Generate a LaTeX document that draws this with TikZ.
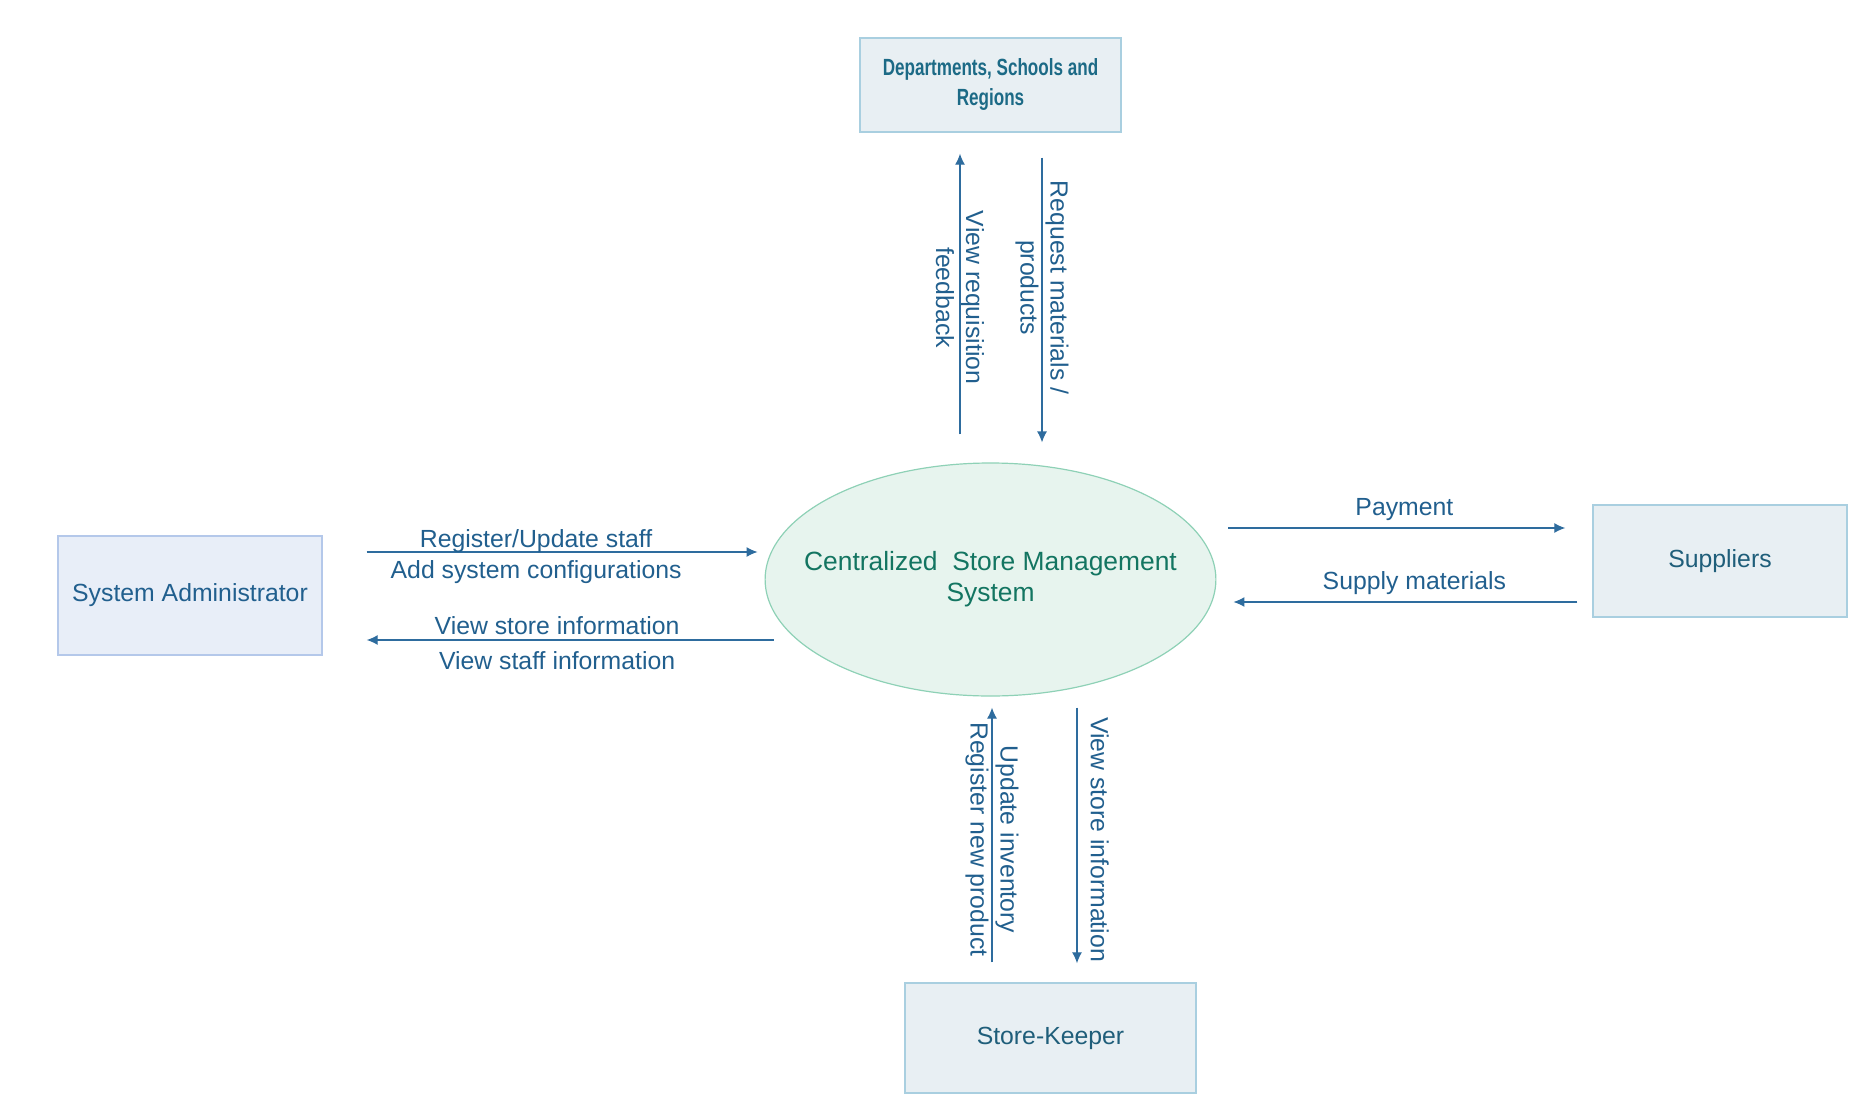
\documentclass[tikz,border=0pt]{standalone}
\usepackage{fontspec}
\setmainfont{Liberation Sans}
\newfontfamily\condfont[FakeStretch=0.73]{Liberation Sans Bold}
\usepackage{tikz}
\usetikzlibrary{positioning}
\usetikzlibrary{shapes,arrows.meta,fit}
\definecolor{labtext}{HTML}{215F8E}
\definecolor{flow}{HTML}{2E6C9E}
\definecolor{boxfill}{HTML}{E8EFF3}
\definecolor{boxline}{HTML}{A9CFE0}
\definecolor{admfill}{HTML}{E8EEF8}
\definecolor{admline}{HTML}{B4C8EA}
\definecolor{boxtext}{HTML}{1F5E7A}
\definecolor{depttext}{HTML}{1C6A86}
\definecolor{procfill}{HTML}{E7F4EE}
\definecolor{procline}{HTML}{8ED1B6}
\definecolor{proctext}{HTML}{137561}
\tikzstyle{entity} = [rectangle, text centered, draw=boxline, fill=boxfill, text=boxtext, line width=0.7pt, inner sep=0pt, font=\fontsize{12.4pt}{15pt}\selectfont]
\tikzstyle{process} = [ellipse, text centered, align=center, draw=procline, fill=procfill, text=proctext, line width=0.6pt, inner xsep=-13.5pt, inner ysep=0pt, minimum width=223.5pt, minimum height=116.5pt, font=\fontsize{13.2pt}{15.5pt}\selectfont]
\tikzstyle{line} = [draw=flow, line width=0.6pt, -{Latex[length=5.5pt,width=5pt]}]
\tikzstyle{flowlabel} = [text=labtext, align=center, font=\fontsize{12.4pt}{15pt}\selectfont]
\tikzstyle{vlabel} = [flowlabel, rotate=-90]

\begin{document}
\begin{tikzpicture}[x=0.5pt, y=-0.5pt]
			\useasboundingbox (0,0) rectangle (1864,1103);
			% Place nodes
			\node [process] (csms) at (990.5,579.5) {Centralized~ Store Management\\System};
			\node [entity, minimum width=130.5pt, minimum height=47pt, text=depttext, align=center, font=\condfont\fontsize{11.7pt}{15pt}\selectfont] (dept) at (990.5,85) {Departments, Schools and\\Regions};
			\node [entity, minimum width=132pt, minimum height=59.5pt, draw=admline, fill=admfill, text=labtext] (admin) at (190,595.5) {System Administrator};
			\node [entity, minimum width=127pt, minimum height=56pt] (supp) at (1720,561) {Suppliers};
			\node [entity, minimum width=145.5pt, minimum height=55pt] (keeper) at (1050.5,1038) {Store-Keeper};
			% Draw edges
			\path [line, shorten <=14pt, shorten >=10.5pt] ([xshift=-15.25pt]csms.north) -- node [vlabel] {View requisition\\feedback} ([xshift=-15.25pt]dept.south);
			\path [line, shorten <=12.5pt, shorten >=10pt] ([xshift=25.75pt]dept.south) -- node [vlabel, pos=0.47] {Request materials /\\products} ([xshift=25.75pt]csms.north);
			\path [line, shorten <=22pt, shorten >=3.5pt] ([yshift=21.75pt]admin.east) -- node [flowlabel, xshift=-3.75pt, yshift=-2.5pt, font=\fontsize{12.4pt}{15.5pt}\selectfont] {Register/Update staff\\Add system configurations} ([yshift=13.75pt]csms.west);
			\path [line, shorten >=22pt] ([xshift=4.5pt, yshift=-30.25pt]csms.west) -- node [flowlabel, xshift=4.5pt, yshift=-1.5pt, font=\fontsize{12.4pt}{17.8pt}\selectfont] {View store information\\View staff information} ([yshift=-22.25pt]admin.east);
			\path [line, shorten <=6pt, shorten >=13.5pt] ([yshift=25.75pt]csms.east) -- node [flowlabel, above] {Payment} ([yshift=16.5pt]supp.west);
			\path [line, shorten <=7.5pt, shorten >=8.5pt] ([yshift=-20.5pt]supp.west) -- node [flowlabel, above, xshift=5pt] {Supply materials} ([yshift=-11.25pt]csms.east);
			\path [line, shorten <=10pt, shorten >=5.5pt] ([xshift=-29.25pt]keeper.north) -- node [vlabel] {Update inventory\\Register new product} ([xshift=0.75pt]csms.south);
			\path [line, shorten <=5.5pt, shorten >=9.5pt] ([xshift=43.25pt]csms.south) -- node [vlabel, anchor=south, inner sep=6.5pt] {View store information} ([xshift=13.25pt]keeper.north);
\end{tikzpicture}
\end{document}
